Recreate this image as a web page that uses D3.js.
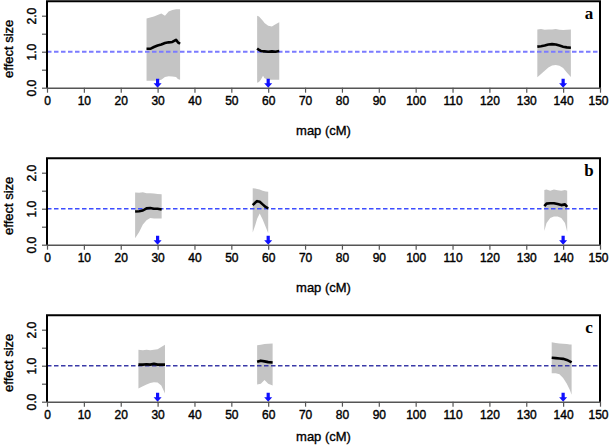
<!DOCTYPE html>
<html><head><meta charset="utf-8">
<script src="https://cdn.jsdelivr.net/npm/d3@7"></script>
<style>body{margin:0;background:#fff}svg{display:block}</style>
</head><body>
<script>
// ---- data ----
const panelLabels = ["a", "b", "c"];
const mapTicks = [0,10,20,30,40,50,60,70,80,90,100,110,120,130,140,150];
const effectTicks = [0, 0.5, 1, 1.5, 2];
const effectLabels = ["0.0", "", "1.0", "", "2.0"];
const arrowPositions = [30, 60, 140];
const refLineColors = ["#7b7bff", "#3d4dff", "#3a3aa8"];

// panel a
const a1X = [27, 28, 29, 30, 31, 32, 33, 34, 35, 35.5, 36.1];
const a1Upper = [1.92, 1.95, 1.98, 2.02, 2.06, 2.0, 2.12, 2.16, 2.18, 2.18, 2.18];
const a1Lower = [0.19, 0.19, 0.19, 0.2, 0.22, 0.3, 0.32, 0.31, 0.3, 0.24, 0.22];
const a1Effect = [1.08, 1.08, 1.13, 1.17, 1.2, 1.24, 1.26, 1.27, 1.33, 1.26, 1.22];
const a2X = [57, 57.5, 58, 58.6, 59, 60, 61, 62, 63];
const a2Upper = [2.0, 1.98, 1.92, 1.85, 1.8, 1.72, 1.7, 1.76, 1.82];
const a2Lower = [0.14, 0.16, 0.22, 0.33, 0.26, 0.22, 0.22, 0.22, 0.22];
const a2Effect = [1.09, 1.05, 1.02, 1.01, 1.01, 1.0, 1.01, 1.0, 1.02];
const a3X = [133, 134, 135, 136, 137, 138, 139, 140, 141, 142.1];
const a3Upper = [1.62, 1.63, 1.61, 1.62, 1.62, 1.63, 1.61, 1.6, 1.61, 1.62];
const a3Lower = [0.29, 0.38, 0.47, 0.56, 0.62, 0.63, 0.61, 0.55, 0.42, 0.3];
const a3Effect = [1.14, 1.15, 1.17, 1.2, 1.21, 1.2, 1.17, 1.14, 1.12, 1.11];

// panel b
const b1X = [23.9, 25, 26, 27, 28, 29, 30, 31.1];
const b1Upper = [1.45, 1.44, 1.46, 1.43, 1.43, 1.42, 1.41, 1.4];
const b1Lower = [0.18, 0.35, 0.56, 0.68, 0.74, 0.73, 0.73, 0.73];
const b1Effect = [0.92, 0.93, 0.95, 1.01, 1.02, 1.0, 1.0, 0.98];
const b2X = [55.8, 56.5, 57, 57.7, 58.5, 59.3, 60];
const b2Upper = [1.57, 1.56, 1.55, 1.53, 1.5, 1.48, 1.47];
const b2Lower = [0.34, 0.55, 0.72, 0.87, 0.7, 0.5, 0.32];
const b2Effect = [1.1, 1.17, 1.21, 1.19, 1.12, 1.05, 1.01];
const b3X = [134.9, 135.5, 136.5, 137.5, 138.5, 139.5, 140.5, 141.1];
const b3Upper = [1.52, 1.53, 1.5, 1.53, 1.51, 1.5, 1.52, 1.5];
const b3Lower = [0.38, 0.6, 0.74, 0.78, 0.78, 0.74, 0.6, 0.36];
const b3Effect = [1.07, 1.14, 1.15, 1.15, 1.13, 1.1, 1.12, 1.05];

// panel c
const c1X = [24.8, 26, 27, 28, 29, 30, 31, 32];
const c1Upper = [1.44, 1.43, 1.44, 1.43, 1.44, 1.46, 1.52, 1.58];
const c1Lower = [0.37, 0.43, 0.48, 0.52, 0.54, 0.53, 0.45, 0.23];
const c1Effect = [1.03, 1.03, 1.04, 1.03, 1.05, 1.03, 1.03, 1.03];
const c2X = [57, 58, 59, 60, 61.2];
const c2Upper = [1.57, 1.58, 1.6, 1.61, 1.62];
const c2Lower = [0.48, 0.5, 0.6, 0.5, 0.45];
const c2Effect = [1.11, 1.14, 1.12, 1.1, 1.09];
const c3X = [136.9, 138, 139, 140, 141, 141.8, 142.3];
const c3Upper = [1.65, 1.63, 1.62, 1.61, 1.6, 1.59, 1.59];
const c3Lower = [0.79, 0.79, 0.76, 0.66, 0.5, 0.33, 0.19];
const c3Effect = [1.22, 1.21, 1.2, 1.19, 1.16, 1.12, 1.09];

const regionsByPanel = [
  [[a1X, a1Upper, a1Lower, a1Effect], [a2X, a2Upper, a2Lower, a2Effect], [a3X, a3Upper, a3Lower, a3Effect]],
  [[b1X, b1Upper, b1Lower, b1Effect], [b2X, b2Upper, b2Lower, b2Effect], [b3X, b3Upper, b3Lower, b3Effect]],
  [[c1X, c1Upper, c1Lower, c1Effect], [c2X, c2Upper, c2Lower, c2Effect], [c3X, c3Upper, c3Lower, c3Effect]]
];

// ---- layout ----
const W = 609, H = 446;
const panelOffsets = [0, 157, 314];
const xLabelY = [131, 131, 123];
const svg = d3.select("body").append("svg").attr("width", W).attr("height", H);

const x = d3.scaleLinear().domain([0, 150]).range([47, 600]);
const y = d3.scaleLinear().domain([0, 2.4]).range([87.7, 1.3]);
const font = "'Liberation Sans', Arial, sans-serif";

panelLabels.forEach((lab, pi) => {
  const g = svg.append("g").attr("transform", `translate(0,${panelOffsets[pi]})`);

  // shaded regions
  regionsByPanel[pi].forEach(([xs, up, lo, eff]) => {
    const pts = xs.map((v, i) => ({x: v, u: up[i], l: lo[i], e: eff[i]}));
    g.append("path").datum(pts)
      .attr("d", d3.area().x(d => x(d.x)).y0(d => y(d.l)).y1(d => y(d.u)))
      .attr("fill", "#c4c4c4");
  });

  // reference line
  g.append("line").attr("x1", x(0)).attr("x2", x(150)).attr("y1", y(1)).attr("y2", y(1))
    .attr("stroke", refLineColors[pi]).attr("stroke-width", pi === 0 ? 2 : 1.4)
    .attr("stroke-dasharray", "4.5,2.5");

  // effect lines
  regionsByPanel[pi].forEach(([xs, up, lo, eff]) => {
    const pts = xs.map((v, i) => ({x: v, e: eff[i]}));
    g.append("path").datum(pts)
      .attr("d", d3.line().x(d => x(d.x)).y(d => y(d.e)))
      .attr("fill", "none").attr("stroke", "#000").attr("stroke-width", 2.6)
      .attr("stroke-linejoin", "round");
  });

  // arrows
  arrowPositions.forEach(p => {
    const cx = x(p), yb = y(0);
    g.append("path")
      .attr("d", `M${cx-1.6},${yb-9} L${cx+1.6},${yb-9} L${cx+1.6},${yb-4.5} L${cx+4},${yb-4.5} L${cx},${yb} L${cx-4},${yb-4.5} L${cx-1.6},${yb-4.5} Z`)
      .attr("fill", "#1010ff");
  });

  // x axis
  const xa = g.append("g").attr("transform", `translate(0,${y(0)})`)
    .call(d3.axisBottom(x).tickValues(mapTicks).tickSize(5).tickSizeOuter(0).tickPadding(4));
  xa.select(".domain").attr("stroke", "#555").attr("stroke-width", 1.6);
  xa.selectAll(".tick line").attr("stroke", "#555").attr("stroke-width", 1.2);
  xa.selectAll("text").attr("font-family", font).attr("font-size", 12).attr("fill", "#000")
    .attr("stroke", "#000").attr("stroke-width", 0.4)
    .attr("text-anchor", d => d === 150 ? "end" : "middle")
    .attr("dx", d => d === 150 ? 8 : 0);

  // y axis
  const ya = g.append("g").attr("transform", `translate(${x(0)},0)`)
    .call(d3.axisLeft(y).tickValues(effectTicks).tickSize(5).tickSizeOuter(0).tickFormat((d, i) => effectLabels[i]));
  ya.select(".domain").remove();
  ya.selectAll(".tick line").attr("stroke", "#555").attr("stroke-width", 1.2);
  ya.selectAll(".tick text")
    .attr("x", null).attr("dy", null)
    .attr("transform", "translate(-15,0) rotate(-90)")
    .attr("text-anchor", "middle").attr("dy", "0.35em")
    .attr("font-family", font).attr("font-size", 12).attr("fill", "#000")
    .attr("stroke", "#000").attr("stroke-width", 0.4);

  // frame: top, left, right
  g.append("path")
    .attr("d", `M${x(0)},${y(0)} L${x(0)},${y(2.4)} L${x(150)},${y(2.4)} L${x(150)},${y(0)}`)
    .attr("fill", "none").attr("stroke", "#000").attr("stroke-width", 2);

  // axis titles
  g.append("text").attr("x", x(75)).attr("y", xLabelY[pi] + 4).attr("text-anchor", "middle")
    .attr("font-family", font).attr("font-size", 13).attr("stroke", "#000").attr("stroke-width", 0.35)
    .text("map (cM)");
  g.append("text").attr("transform", `translate(12.5,${y(1.08)}) rotate(-90)`).attr("text-anchor", "middle")
    .attr("font-family", font).attr("font-size", 13).attr("stroke", "#000").attr("stroke-width", 0.35)
    .text("effect size");

  // panel letter
  g.append("text").attr("x", 589).attr("y", 19).attr("text-anchor", "middle")
    .attr("font-family", "'Liberation Serif', 'Times New Roman', serif").attr("font-weight", "bold")
    .attr("font-size", 17).text(lab);
});
</script>
</body></html>
